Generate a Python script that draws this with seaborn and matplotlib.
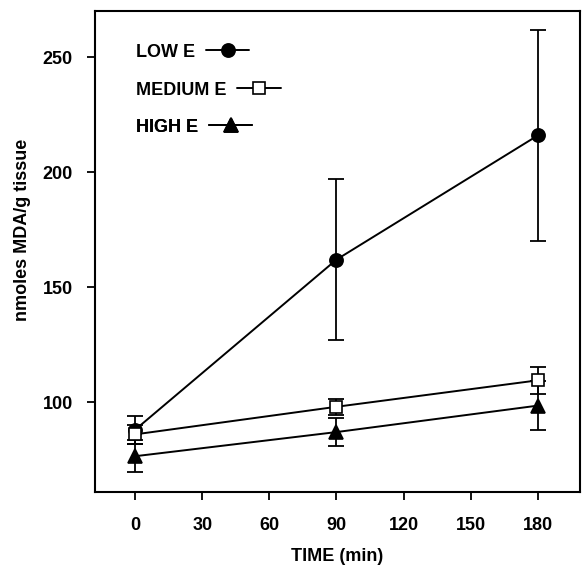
import pandas as pd
import seaborn as sns
import matplotlib.pyplot as plt

# values
time = [0, 90, 180]
groups = ['LOW E', 'MEDIUM E', 'HIGH E']
low_mean = [88, 162, 216]
low_err = [6, 35, 46]
med_mean = [86, 98, 109.5]
med_err = [4, 3.5, 6]
high_mean = [76.5, 87, 98.5]
high_err = [7, 6, 10.5]

df = pd.DataFrame({
    'time': time * 3,
    'mda': low_mean + med_mean + high_mean,
    'err': low_err + med_err + high_err,
    'group': [g for g in groups for _ in time],
})

sns.set_style('ticks', {'text.color': 'black', 'axes.labelcolor': 'black',
                        'xtick.color': 'black', 'ytick.color': 'black',
                        'axes.edgecolor': 'black'})
plt.rcParams['font.family'] = ['Liberation Sans', 'DejaVu Sans']
plt.rcParams['font.weight'] = 'bold'

fig = plt.figure(figsize=(5.82, 5.66), dpi=100)
ax = fig.add_axes([0.163, 0.131, 0.834, 0.849])

styles = {
    'LOW E': dict(marker='o', mfc='black', ms=9.5),
    'MEDIUM E': dict(marker='s', mfc='white', ms=8.5),
    'HIGH E': dict(marker='^', mfc='black', ms=9.5),
}

for g in groups:
    sub = df[df['group'] == g]
    ax.errorbar(sub['time'], sub['mda'], yerr=sub['err'], fmt='none',
                ecolor='black', elinewidth=1.3, capsize=6, capthick=1.3, zorder=2)
    sns.lineplot(data=sub, x='time', y='mda', ax=ax, color='black', lw=1.4,
                 mec='black', mew=1.2, zorder=3, legend=False, **styles[g])

ax.set_xlim(-18, 199)
ax.set_ylim(61, 270)
ax.set_xticks([0, 30, 60, 90, 120, 150, 180])
ax.set_yticks([100, 150, 200, 250])
ax.tick_params(direction='out', length=6, width=1.3, labelsize=13)
ax.tick_params(axis='x', pad=12)
ax.tick_params(axis='y', pad=10)
for lab in ax.get_xticklabels() + ax.get_yticklabels():
    lab.set_fontweight('bold')
for s in ax.spines.values():
    s.set_linewidth(1.5)
    s.set_visible(True)

ax.set_xlabel('TIME (min)', fontsize=13, fontweight='bold')
ax.set_ylabel('nmoles MDA/g tissue', fontsize=13, fontweight='bold')
ax.xaxis.set_label_coords(0.5, -0.117)
ax.yaxis.set_label_coords(-0.132, 0.545)

# one small legend per series so the labels stay left-aligned
legend_y = [0.915, 0.836, 0.759]
for g, yy in zip(groups, legend_y):
    h = plt.Line2D([], [], color='black', lw=1.4, mec='black', mew=1.2, **styles[g])
    leg = ax.legend([h], [g], loc='center left', bbox_to_anchor=(0.085, yy),
                    frameon=False, markerfirst=False, handlelength=2.4,
                    handletextpad=0.6, borderpad=0, borderaxespad=0,
                    prop={'weight': 'bold', 'size': 13})
    ax.add_artist(leg)

plt.savefig('out.png', dpi=100)
